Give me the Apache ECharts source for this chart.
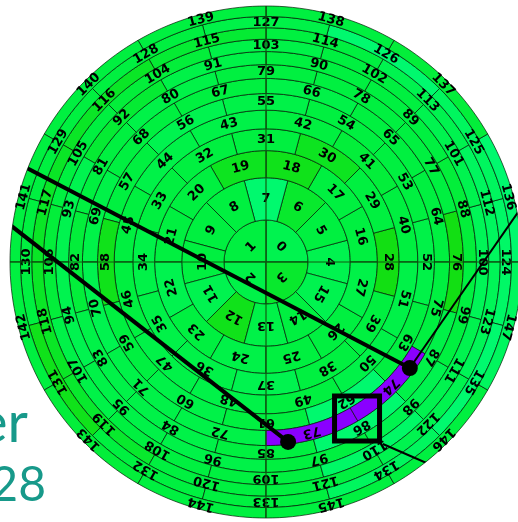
<!DOCTYPE html>
<html>
<head>
<meta charset="utf-8">
<script src="https://cdn.jsdelivr.net/npm/echarts@6/dist/echarts.min.js"></script>
<style>
html,body{margin:0;padding:0;background:#fff;}
#chart{width:518px;height:522px;}
</style>
</head>
<body>
<div id="chart"></div>
<script>
// Bundle layout: the centre ring holds 4 fibres, every outer ring holds 12
const ringCounts = [4, 12, 12, 12, 12, 12, 12, 12, 12, 12, 12, 12, 12];
// Angle (deg, counter-clockwise from 3 o'clock) of the first fibre centre in each ring
const ringOffsets = [45, 0, 15, 0, 15, 0, 15, 0, 15, 0, 15, 0, 15];
// Ring edges as a fraction of the bundle radius (equal-area fibres)
const ringEdges = [0, 0.164, 0.329, 0.435, 0.520, 0.593, 0.658, 0.717, 0.771, 0.822, 0.870, 0.915, 0.959, 1];

// Relative response of each fibre, 0 = low (yellow-green) .. 1 = high (cyan-green)
const fibreShade = [
  0.60, 0.50, 0.55, 0.35,
  0.60, 0.50, 0.35, 0.80, 0.50, 0.50, 0.50, 0.60, 0.20, 0.55, 0.50, 0.60,
  0.50, 0.50, 0.20, 0.25, 0.50, 0.50, 0.60, 0.50, 0.55, 0.50, 0.50, 0.55,
  0.15, 0.50, 0.25, 0.50, 0.50, 0.50, 0.55, 0.55, 0.55, 0.60, 0.50, 0.50,
  0.50, 0.45, 0.50, 0.55, 0.55, 0.50, 0.50, 0.55, 0.55, 0.50, 0.55, 0.55,
  0.55, 0.50, 0.50, 0.55, 0.60, 0.50, 0.20, 0.50, 0.55, 0.50, 0.80, 0.50,
  0.50, 0.50, 0.55, 0.50, 0.50, 0.55, 0.60, 0.55, 0.55, 0.50, 0.50, 0.50,
  0.15, 0.50, 0.50, 0.50, 0.55, 0.50, 0.45, 0.55, 0.55, 0.50, 0.80, 0.55,
  0.45, 0.50, 0.50, 0.55, 0.40, 0.60, 0.60, 0.55, 0.55, 0.50, 0.60, 0.50,
  0.65, 0.60, 0.50, 0.55, 0.45, 0.50, 0.45, 0.55, 0.50, 0.50, 0.75, 0.60,
  0.70, 0.60, 0.50, 0.40, 0.30, 0.30, 0.30, 0.35, 0.50, 0.50, 0.60, 0.65,
  0.75, 0.70, 0.80, 0.55, 0.50, 0.50, 0.50, 0.20, 0.50, 0.50, 0.70, 0.80,
  0.80, 0.45, 0.50, 0.50, 0.50, 0.50, 0.50, 0.45, 0.50, 0.50, 0.50, 0.70
];
// Fibres crossed by the selected track
const trackFibres = [73, 74];

// Annotations in polar data units: [radius fraction, angle deg]
const spotA = [0.698, 323.6];
const spotB = [0.708, 277.0];
const boxCentre = [0.707, 300.2];
const leaderA = [[1.121, 157.9], spotA];
const leaderB = [[1.054, 170.4], spotB];
const pointerA = [[1.004, 11.2], spotA];
const pointerB = [[0.845, 302.7], [1.362, 316.3]];
const crossH = [[1, 0], [1, 180]];
const crossV = [[1, 90], [1, 270]];

// One data row per fibre: [radius mid, angle mid, id, ring, shade]
const fibres = [];
let id = 0;
ringCounts.forEach(function (n, ring) {
  for (let k = 0; k < n; k++) {
    const ang = ringOffsets[ring] + k * 360 / n;
    const rMid = (ringEdges[ring] + ringEdges[ring + 1]) / 2;
    fibres.push([rMid, ang, id, ring, fibreShade[id]]);
    id++;
  }
});
const normalFibres = fibres.filter(function (f) { return trackFibres.indexOf(f[2]) < 0; });
const trackRows = fibres.filter(function (f) { return trackFibres.indexOf(f[2]) >= 0; });

function renderFibre(params, api) {
  const ring = api.value(3);
  const ang = api.value(1);
  const step = 360 / ringCounts[ring];
  const a0 = ang - step / 2, a1 = ang + step / 2;
  const r0 = ringEdges[ring], r1 = ringEdges[ring + 1];
  const segs = Math.ceil(step / 1.5);
  const pts = [];
  for (let i = 0; i <= segs; i++) pts.push(api.coord([r1, a0 + (a1 - a0) * i / segs]));
  if (r0 > 0) {
    for (let i = segs; i >= 0; i--) pts.push(api.coord([r0, a0 + (a1 - a0) * i / segs]));
  } else {
    pts.push(api.coord([0, 0]));
  }
  const c = api.coord([api.value(0), ang]);
  return {
    type: 'group',
    children: [
      {
        type: 'polygon',
        shape: { points: pts },
        style: { fill: api.visual('color'), stroke: 'rgba(0,20,0,0.85)', lineWidth: 0.8 }
      },
      {
        type: 'text',
        x: c[0], y: c[1],
        rotation: (ang - 90) * Math.PI / 180,
        z2: 10,
        style: {
          text: String(api.value(2)),
          font: 'bold 13px "DejaVu Sans"',
          fill: '#000',
          align: 'center',
          verticalAlign: 'middle'
        }
      }
    ]
  };
}

function lineSeries(data, width, color, z) {
  return {
    type: 'line', coordinateSystem: 'polar', data: data,
    symbol: 'none', clip: false, silent: true, animation: false, z: z,
    lineStyle: { color: color, width: width, opacity: 1 }
  };
}

const chart = echarts.init(document.getElementById('chart'), null, { renderer: 'canvas' });
chart.setOption({
  backgroundColor: '#ffffff',
  animation: false,
  polar: { center: [266, 262], radius: 256 },
  angleAxis: { type: 'value', min: 0, max: 360, startAngle: 0, clockwise: false, show: false },
  radiusAxis: { type: 'value', min: 0, max: 1, show: false },
  visualMap: {
    show: false, type: 'continuous', min: 0, max: 1, dimension: 4, seriesIndex: 0,
    inRange: { color: ['#1ad800', '#00f040', '#00ff8c'] }
  },
  graphic: [
    { type: 'text', x: 28, y: 396, style: { text: 'er', font: '56px Lato', fill: '#17998a', align: 'right', verticalAlign: 'top' } },
    { type: 'text', x: 46, y: 462, style: { text: '28', font: '48px Lato', fill: '#17998a', align: 'right', verticalAlign: 'top' } }
  ],
  series: [
    {
      type: 'custom', coordinateSystem: 'polar', data: normalFibres,
      encode: { radius: 0, angle: 1 }, renderItem: renderFibre, z: 2, silent: true
    },
    {
      type: 'custom', coordinateSystem: 'polar', data: trackRows,
      encode: { radius: 0, angle: 1 }, renderItem: renderFibre, z: 2, silent: true,
      itemStyle: { color: '#8a00ff' }
    },
    lineSeries(crossH, 1.2, '#115a11', 3),
    lineSeries(crossV, 1.2, '#115a11', 3),
    lineSeries(leaderA, 4, '#000', 5),
    lineSeries(leaderB, 4, '#000', 5),
    lineSeries(pointerA, 2, '#000', 5),
    lineSeries(pointerB, 2, '#000', 5),
    {
      type: 'scatter', coordinateSystem: 'polar', data: [spotA, spotB],
      symbol: 'circle', symbolSize: 16, itemStyle: { color: '#000', opacity: 1 }, z: 6, silent: true
    },
    {
      type: 'scatter', coordinateSystem: 'polar', data: [boxCentre],
      symbol: 'rect', symbolSize: 45,
      itemStyle: { color: 'rgba(0,0,0,0)', borderColor: '#000', borderWidth: 5, opacity: 1 }, z: 6, silent: true
    }
  ]
});
</script>
</body>
</html>
